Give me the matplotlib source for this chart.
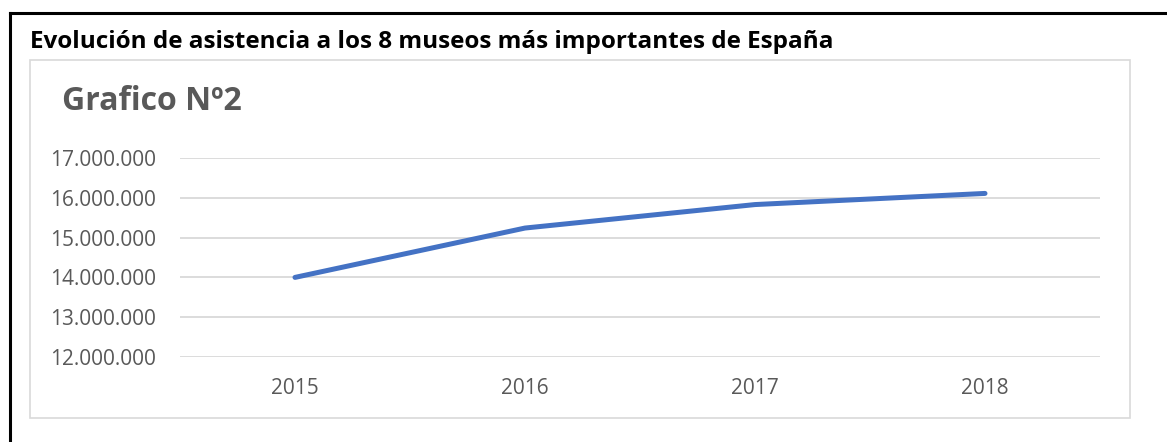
import matplotlib.pyplot as plt
from matplotlib.patches import Rectangle
from matplotlib.lines import Line2D
from matplotlib.ticker import FuncFormatter

plt.rcParams['font.family'] = ['Open Sans', 'DejaVu Sans']

# data
years = ['2015', '2016', '2017', '2018']
visitors = [14_000_000, 15_240_000, 15_830_000, 16_110_000]
y_ticks = [12_000_000, 13_000_000, 14_000_000, 15_000_000, 16_000_000, 17_000_000]

title = "Evolución de asistencia a los 8 museos más importantes de España"
chart_title = "Grafico Nº2"

W, H = 1167, 442
fig = plt.figure(figsize=(W / 100, H / 100), dpi=100)

# outer black frame (only top and left visible)
fig.add_artist(Line2D([9.5 / W, 1.0], [1 - 13 / H, 1 - 13 / H], color='black', lw=2.2))
fig.add_artist(Line2D([9.5 / W, 9.5 / W], [1 - 13 / H, 0.0], color='black', lw=2.2))

# chart box
fig.add_artist(Rectangle((30 / W, 1 - 418 / H), 1100 / W, 358 / H,
                         facecolor='none', edgecolor='#D9D9D9', lw=1.2))

fig.text(30 / W, 1 - 48 / H, title, fontsize=17.5, fontweight='bold', color='black',
         ha='left', va='baseline')
fig.text(62 / W, 1 - 110 / H, chart_title, fontsize=23, fontweight='bold', color='#595959',
         ha='left', va='baseline')

ax = fig.add_axes([180 / W, 1 - 357 / H, 920 / W, 199 / H])
x = range(len(years))
ax.plot(x, visitors, color='#4472C4', lw=3.6, solid_capstyle='round', solid_joinstyle='round',
        zorder=3)
ax.set_xlim(-0.5, len(years) - 0.5)
ax.set_ylim(y_ticks[0], y_ticks[-1])
ax.set_yticks(y_ticks)
ax.yaxis.set_major_formatter(FuncFormatter(lambda v, p: f"{int(v):,}".replace(',', '.')))
ax.set_xticks(list(x))
ax.set_xticklabels(years)
ax.grid(axis='y', color='#D9D9D9', lw=1.3)
ax.set_axisbelow(True)
for s in ax.spines.values():
    s.set_visible(False)
ax.tick_params(length=0, labelsize=15, labelcolor='#595959')
ax.tick_params(axis='y', pad=17)
ax.tick_params(axis='x', pad=15)

fig.savefig('out.png', dpi=100)
